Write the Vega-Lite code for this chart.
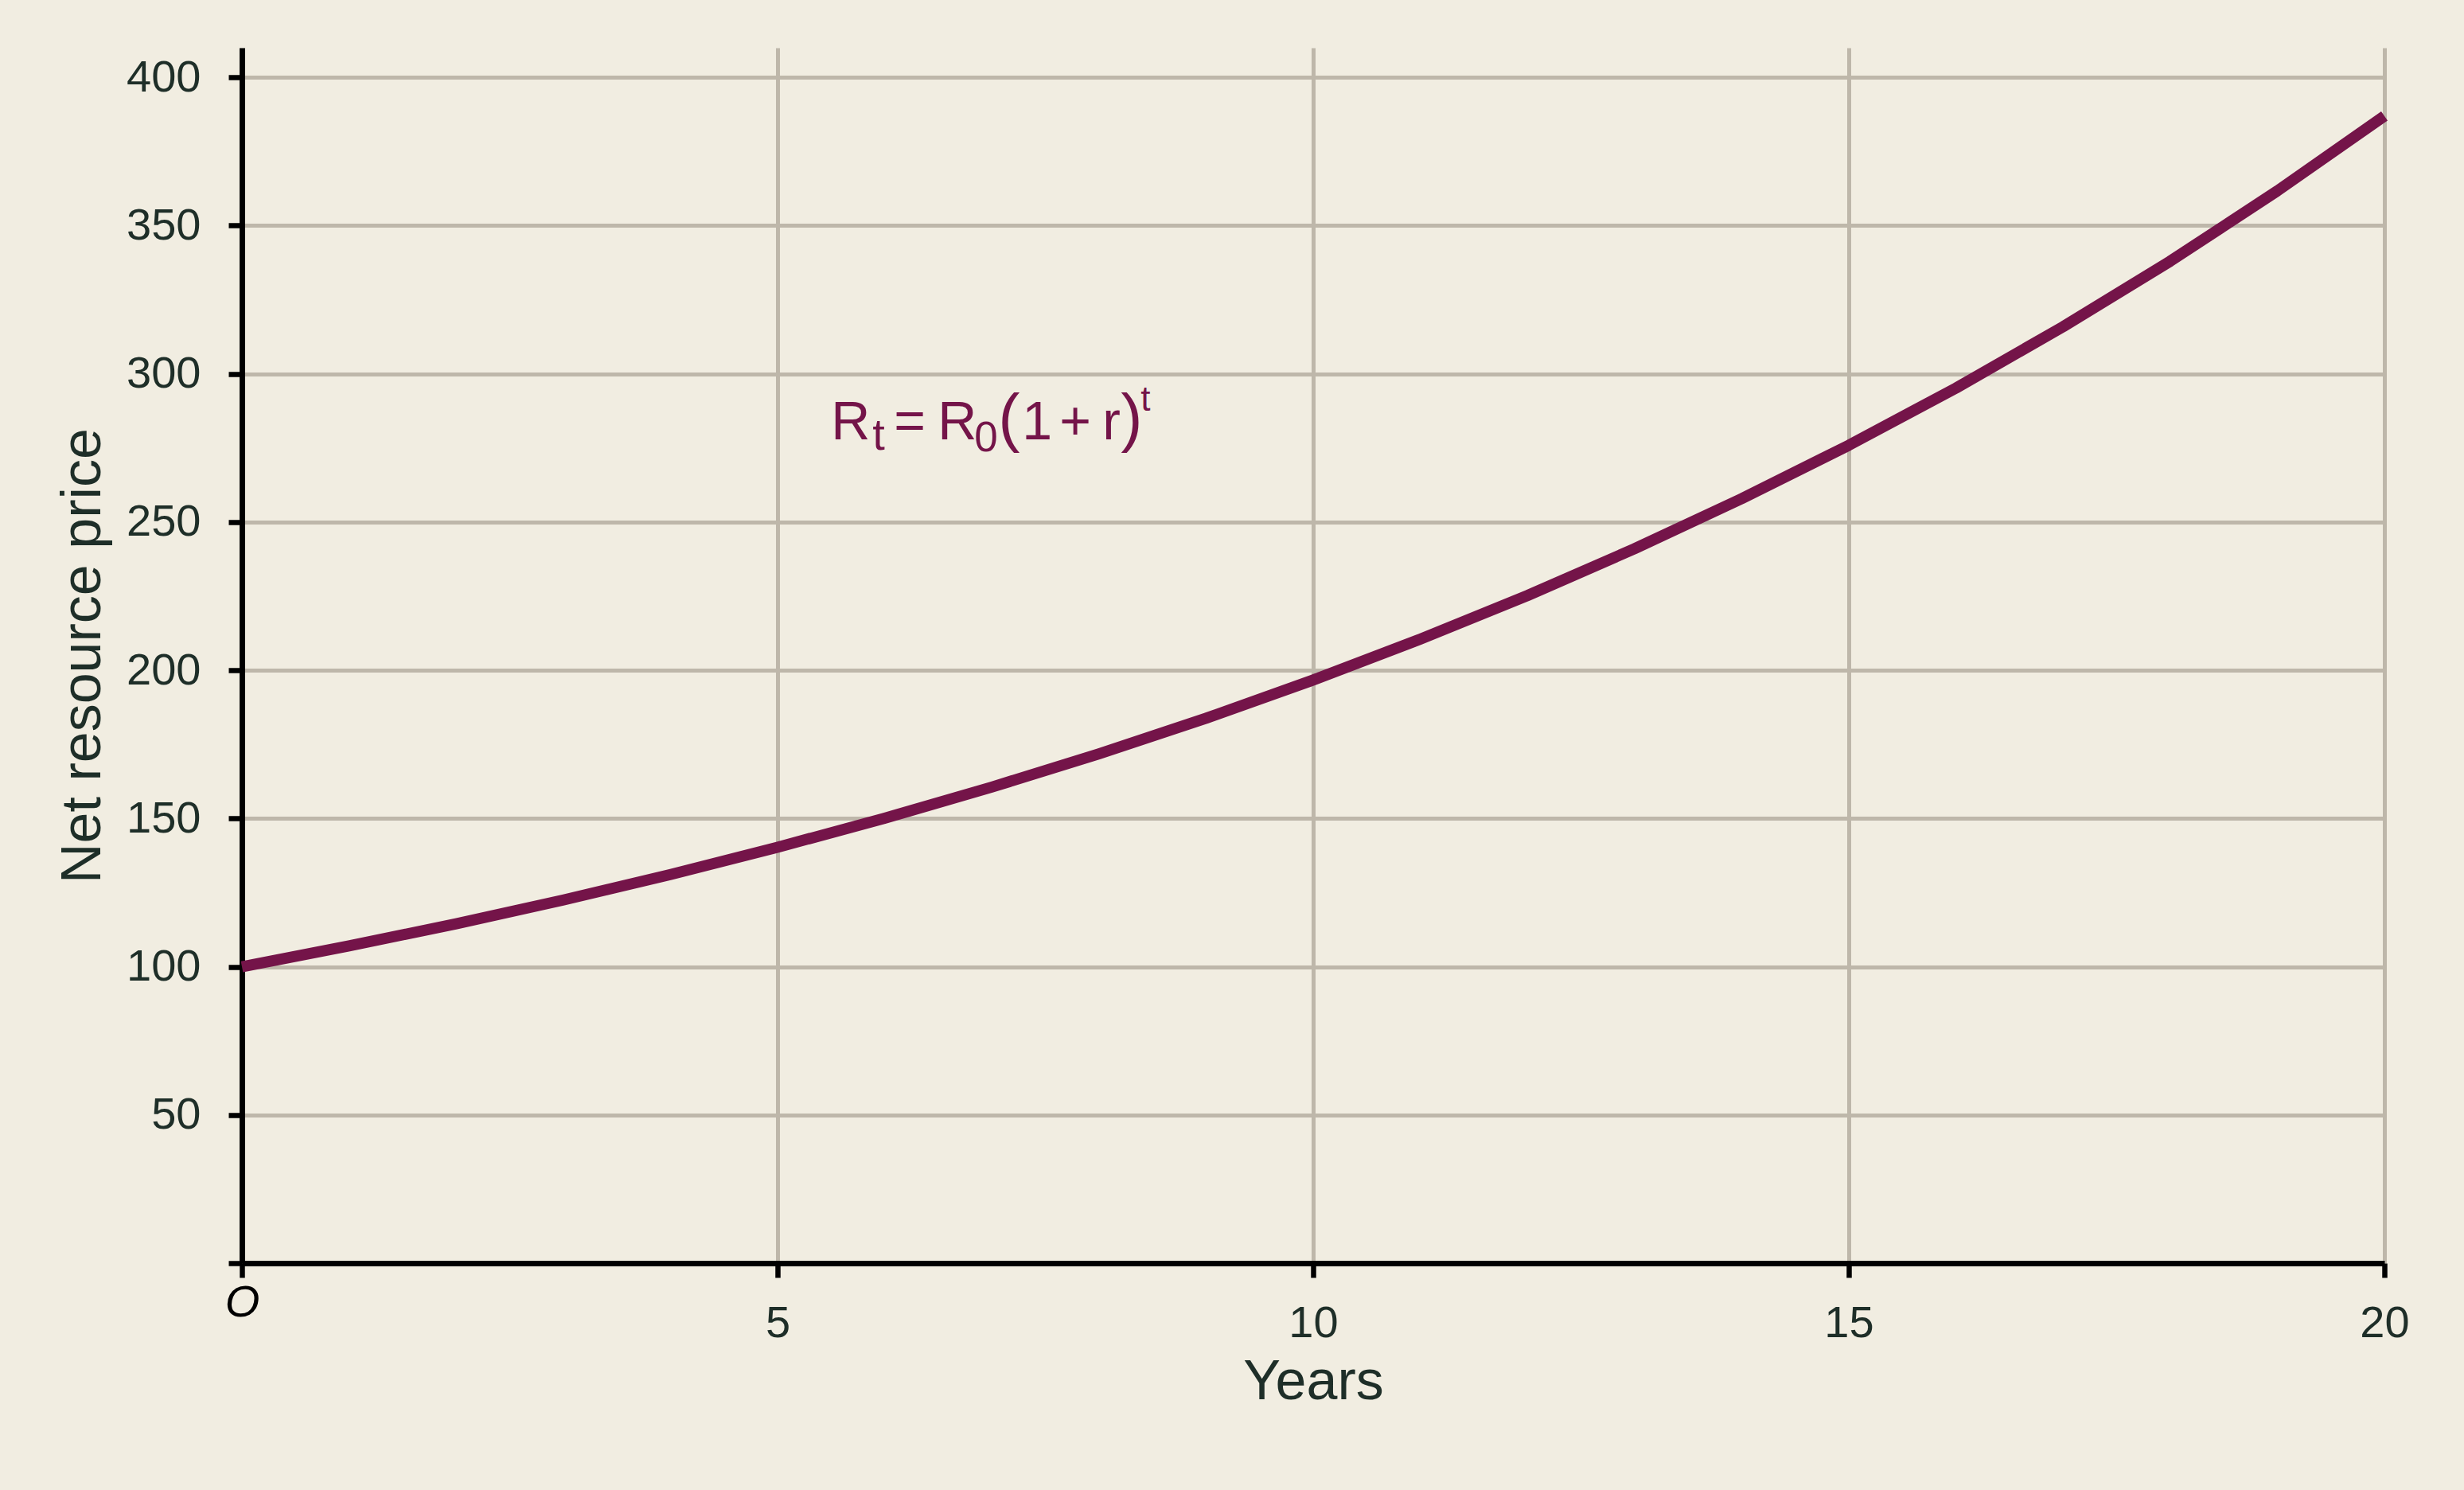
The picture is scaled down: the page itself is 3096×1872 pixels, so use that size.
{
  "$schema": "https://vega.github.io/schema/vega-lite/v6.json",
  "width": 2692,
  "height": 1527,
  "autosize": {"type": "none"},
  "padding": {"left": 304, "top": 60, "right": 100, "bottom": 285},
  "background": "#F1EDE1",
  "config": {"view": {"stroke": null}, "font": "Liberation Sans"},
  "layer": [
    {
      "data": {"values": [
        {"year": 0, "price": 100.0},
        {"year": 1, "price": 107.0},
        {"year": 2, "price": 114.5},
        {"year": 3, "price": 122.5},
        {"year": 4, "price": 131.1},
        {"year": 5, "price": 140.3},
        {"year": 6, "price": 150.1},
        {"year": 7, "price": 160.6},
        {"year": 8, "price": 171.8},
        {"year": 9, "price": 183.8},
        {"year": 10, "price": 196.7},
        {"year": 11, "price": 210.5},
        {"year": 12, "price": 225.2},
        {"year": 13, "price": 241.0},
        {"year": 14, "price": 257.9},
        {"year": 15, "price": 275.9},
        {"year": 16, "price": 295.2},
        {"year": 17, "price": 315.9},
        {"year": 18, "price": 338.0},
        {"year": 19, "price": 361.7},
        {"year": 20, "price": 387.0}
      ]},
      "mark": {"type": "line", "color": "#741449", "strokeWidth": 14, "strokeCap": "butt", "strokeJoin": "round", "clip": false},
      "encoding": {
        "x": {
          "field": "year", "type": "quantitative",
          "scale": {"domain": [0, 20], "nice": false, "zero": false},
          "axis": {
            "values": [0, 5, 10, 15, 20],
            "format": "d",
            "title": "Years",
            "titleFont": "Liberation Sans",
            "titleFontSize": 70,
            "titleFontWeight": "normal",
            "titleColor": "#1E2E28",
            "titlePadding": 12,
            "labelFont": "Liberation Sans",
            "labelFontSize": 56,
            "labelExpr": "datum.value == 0 ? 'O' : datum.label",
            "labelColor": {"condition": {"test": "datum.value == 0", "value": "#000000"}, "value": "#1E2E28"},
            "labelFontStyle": {"condition": {"test": "datum.value == 0", "value": "italic"}, "value": "normal"},
            "labelPadding": {"condition": {"test": "datum.value == 0", "value": 4}, "value": 30},
            "labelFlush": false,
            "labelOverlap": false,
            "tickSize": 18,
            "tickWidth": 6.5,
            "tickColor": "#000000",
            "domainColor": "#000000",
            "domainWidth": 7,
            "grid": true,
            "gridColor": "#BEB7AA",
            "gridWidth": 5
          }
        },
        "y": {
          "field": "price", "type": "quantitative",
          "scale": {"domain": [0, 410], "nice": false},
          "axis": {
            "values": [0, 50, 100, 150, 200, 250, 300, 350, 400],
            "title": "Net resource price",
            "titleFont": "Liberation Sans",
            "titleFontSize": 70,
            "titleFontWeight": "normal",
            "titleColor": "#1E2E28",
            "titlePadding": 18,
            "labelFont": "Liberation Sans",
            "labelFontSize": 56,
            "labelColor": "#1E2E28",
            "labelExpr": "datum.value == 0 ? '' : datum.label",
            "labelPadding": 35,
            "labelFlush": false,
            "labelOverlap": false,
            "tickSize": 17,
            "tickWidth": 6.5,
            "tickColor": "#000000",
            "domainColor": "#000000",
            "domainWidth": 7,
            "grid": true,
            "gridColor": "#BEB7AA",
            "gridWidth": 5
          }
        }
      }
    },
    {"data": {"values": [{}]}, "mark": {"type": "text", "text": "R", "fontSize": 68, "color": "#741449", "align": "left", "baseline": "alphabetic", "dx": 0, "dy": 0}, "encoding": {"x": {"datum": 5.5, "type": "quantitative"}, "y": {"datum": 278, "type": "quantitative"}}},
    {"data": {"values": [{}]}, "mark": {"type": "text", "text": "t", "fontSize": 56, "color": "#741449", "align": "left", "baseline": "alphabetic", "dx": 52, "dy": 13}, "encoding": {"x": {"datum": 5.5, "type": "quantitative"}, "y": {"datum": 278, "type": "quantitative"}}},
    {"data": {"values": [{}]}, "mark": {"type": "text", "text": "=", "fontSize": 68, "color": "#741449", "align": "left", "baseline": "alphabetic", "dx": 79, "dy": 0}, "encoding": {"x": {"datum": 5.5, "type": "quantitative"}, "y": {"datum": 278, "type": "quantitative"}}},
    {"data": {"values": [{}]}, "mark": {"type": "text", "text": "R", "fontSize": 68, "color": "#741449", "align": "left", "baseline": "alphabetic", "dx": 134, "dy": 0}, "encoding": {"x": {"datum": 5.5, "type": "quantitative"}, "y": {"datum": 278, "type": "quantitative"}}},
    {"data": {"values": [{}]}, "mark": {"type": "text", "text": "0", "fontSize": 53, "color": "#741449", "align": "left", "baseline": "alphabetic", "dx": 180, "dy": 15}, "encoding": {"x": {"datum": 5.5, "type": "quantitative"}, "y": {"datum": 278, "type": "quantitative"}}},
    {"data": {"values": [{}]}, "mark": {"type": "text", "text": "(", "fontSize": 82, "color": "#741449", "align": "left", "baseline": "alphabetic", "dx": 210, "dy": 0}, "encoding": {"x": {"datum": 5.5, "type": "quantitative"}, "y": {"datum": 278, "type": "quantitative"}}},
    {"data": {"values": [{}]}, "mark": {"type": "text", "text": "1", "fontSize": 68, "color": "#741449", "align": "left", "baseline": "alphabetic", "dx": 240, "dy": 0}, "encoding": {"x": {"datum": 5.5, "type": "quantitative"}, "y": {"datum": 278, "type": "quantitative"}}},
    {"data": {"values": [{}]}, "mark": {"type": "text", "text": "+", "fontSize": 68, "color": "#741449", "align": "left", "baseline": "alphabetic", "dx": 287, "dy": 0}, "encoding": {"x": {"datum": 5.5, "type": "quantitative"}, "y": {"datum": 278, "type": "quantitative"}}},
    {"data": {"values": [{}]}, "mark": {"type": "text", "text": "r", "fontSize": 68, "color": "#741449", "align": "left", "baseline": "alphabetic", "dx": 341, "dy": 0}, "encoding": {"x": {"datum": 5.5, "type": "quantitative"}, "y": {"datum": 278, "type": "quantitative"}}},
    {"data": {"values": [{}]}, "mark": {"type": "text", "text": ")", "fontSize": 82, "color": "#741449", "align": "left", "baseline": "alphabetic", "dx": 364, "dy": 0}, "encoding": {"x": {"datum": 5.5, "type": "quantitative"}, "y": {"datum": 278, "type": "quantitative"}}},
    {"data": {"values": [{}]}, "mark": {"type": "text", "text": "t", "fontSize": 44, "color": "#741449", "align": "left", "baseline": "alphabetic", "dx": 389, "dy": -36}, "encoding": {"x": {"datum": 5.5, "type": "quantitative"}, "y": {"datum": 278, "type": "quantitative"}}}
  ]
}
